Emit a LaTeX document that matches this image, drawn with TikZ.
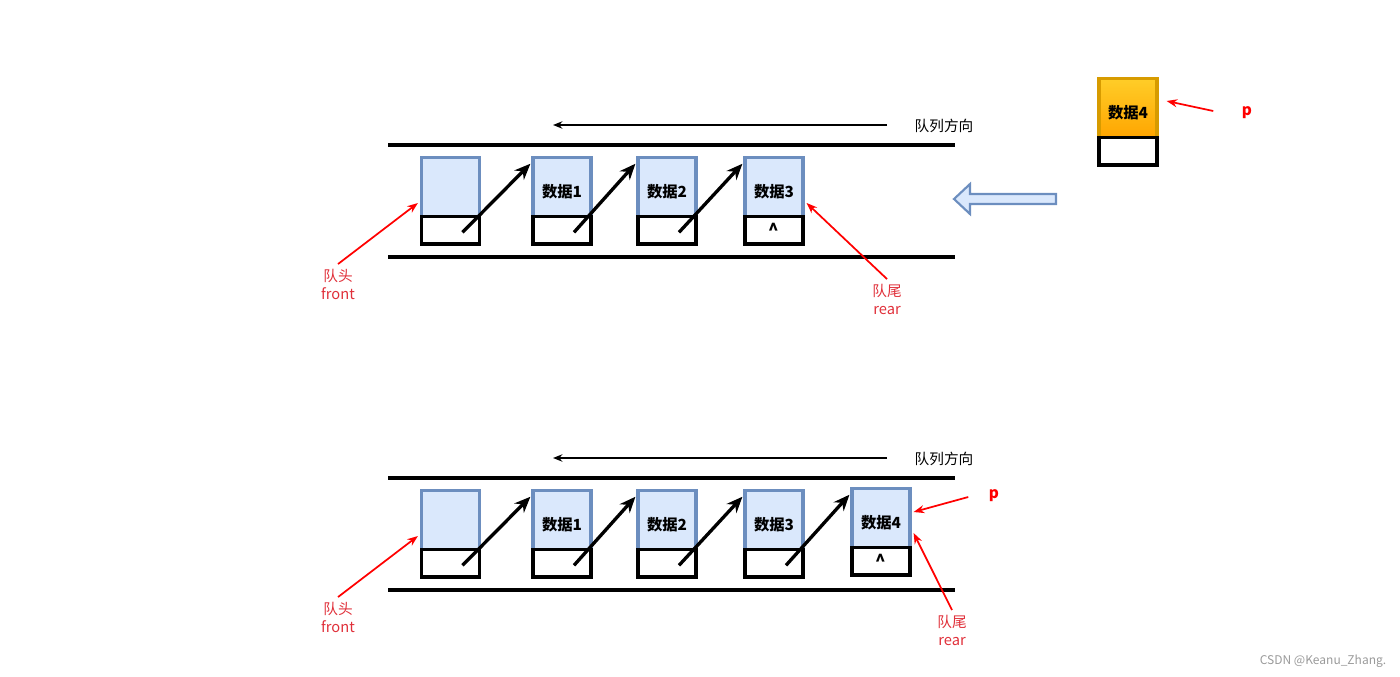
\documentclass[tikz,border=0pt]{standalone}
\usepackage{fontspec}
\setmainfont{Noto Sans CJK SC}
\usetikzlibrary{arrows.meta,positioning}
\definecolor{nodeblue}{HTML}{6C8EBF}
\definecolor{nodefill}{HTML}{DAE8FC}
\definecolor{neworange}{HTML}{D79B00}
\definecolor{newtop}{HTML}{FFCD28}
\definecolor{newbottom}{HTML}{FFA500}
\definecolor{tagred}{HTML}{FF0000}
\definecolor{labelred}{HTML}{E0303A}
\definecolor{watermarkgray}{HTML}{9A9A9A}
\tikzset{
  rail/.style={line width=2.6pt},
  databox/.style={draw=nodeblue,fill=nodefill,line width=2.4pt,minimum width=43.5pt,minimum height=44.5pt,inner sep=0pt,text height=16pt,text depth=1pt,font=\fontsize{11.5}{13}\selectfont\bfseries},
  newbox/.style={databox,draw=neworange,top color=newtop,bottom color=newbottom},
  ptrbox/.style={draw=black,fill=white,line width=2.6pt,minimum width=43.5pt,minimum height=20.5pt,inner sep=0pt,font=\fontsize{13}{13}\selectfont\bfseries},
  link/.style={-{Stealth[length=12pt,width=10pt]},line width=2.5pt},
  dirflow/.style={-{Stealth[length=7pt,width=5.5pt]},line width=1.2pt},
  tagflow/.style={-{Stealth[length=8pt,width=6pt]},line width=1.3pt,draw=tagred},
  tag/.style={text=labelred,align=center,font=\fontsize{11}{13.5}\selectfont},
  ptag/.style={text=tagred,font=\fontsize{11.5}{13}\selectfont\bfseries},
  dirlabel/.style={font=\fontsize{11}{13}\selectfont},
  hollow/.style={draw=nodeblue,fill=nodefill,line width=1.6pt,line join=miter}
}
\begin{document}
\begin{tikzpicture}[x=0.75pt,y=-0.75pt]
  \useasboundingbox (0,0) rectangle (1400,676);
  % before: queue with three elements
  \draw[rail] (388,145) -- (955,145);
  \draw[rail] (388,257) -- (955,257);
  \node[dirlabel] (dir1) at (944,126) {队列方向};
  \coordinate (dirtail1) at (887,125);
  \coordinate (dirhead1) at (553,125);
  \draw[dirflow] (dirtail1) -- (dirhead1);
  \node[databox] (a0) at (450.5,187) {};
  \node[ptrbox,below=-2.5pt of a0] (pa0) {};
  \node[databox] (a1) at (562,187) {数据1};
  \node[ptrbox,below=-2.5pt of a1] (pa1) {};
  \node[databox] (a2) at (667,187) {数据2};
  \node[ptrbox,below=-2.5pt of a2] (pa2) {};
  \node[databox] (a3) at (774,187) {数据3};
  \node[ptrbox,below=-2.5pt of a3] (pa3) {\textasciicircum};
  \draw[link] ([shift={(12,2)}]pa0.center) -- ([shift={(-1,8)}]a1.north west);
  \draw[link] ([shift={(12,2)}]pa1.center) -- ([shift={(-1,8)}]a2.north west);
  \draw[link] ([shift={(12,2)}]pa2.center) -- ([shift={(-1,8)}]a3.north west);
  \node[tag] (front1) at (338,284) {队头\\front};
  \node[tag] (rear1) at (887,299) {队尾\\rear};
  \draw[tagflow] (front1.north) -- ([shift={(-2,16)}]a0.west);
  \draw[tagflow] (rear1.north) -- ([shift={(2,16)}]a3.east);
  % new element waiting to enter
  \node[newbox] (nd) at (1128,108) {数据4};
  \node[ptrbox,below=-2.5pt of nd] (pnd) {};
  \node[ptag] (p1) at (1247,113) {p};
  \draw[tagflow] ([shift={(-24,-2)}]p1.west) -- ([shift={(8,-7)}]nd.east);
  \draw[hollow] (1056,194) -- (970,194) -- (970,184) -- (954,199) -- (970,214) -- (970,204) -- (1056,204) -- cycle;
  % after: queue with four elements
  \draw[rail] (388,478) -- (955,478);
  \draw[rail] (388,590) -- (955,590);
  \node[dirlabel] (dir2) at (944,459) {队列方向};
  \coordinate (dirtail2) at (887,458);
  \coordinate (dirhead2) at (553,458);
  \draw[dirflow] (dirtail2) -- (dirhead2);
  \node[databox] (b0) at (450.5,520) {};
  \node[ptrbox,below=-2.5pt of b0] (pb0) {};
  \node[databox] (b1) at (562,520) {数据1};
  \node[ptrbox,below=-2.5pt of b1] (pb1) {};
  \node[databox] (b2) at (667,520) {数据2};
  \node[ptrbox,below=-2.5pt of b2] (pb2) {};
  \node[databox] (b3) at (774,520) {数据3};
  \node[ptrbox,below=-2.5pt of b3] (pb3) {};
  \node[databox] (b4) at (881,518) {数据4};
  \node[ptrbox,below=-2.5pt of b4] (pb4) {\textasciicircum};
  \draw[link] ([shift={(12,2)}]pb0.center) -- ([shift={(-1,8)}]b1.north west);
  \draw[link] ([shift={(12,2)}]pb1.center) -- ([shift={(-1,8)}]b2.north west);
  \draw[link] ([shift={(12,2)}]pb2.center) -- ([shift={(-1,8)}]b3.north west);
  \draw[link] ([shift={(12,2)}]pb3.center) -- ([shift={(-1,8)}]b4.north west);
  \node[tag] (front2) at (338,617) {队头\\front};
  \node[tag] (rear2) at (952,630) {队尾\\rear};
  \node[ptag] (p2) at (994,496) {p};
  \draw[tagflow] (front2.north) -- ([shift={(-2,16)}]b0.west);
  \draw[tagflow] (rear2.north) -- ([shift={(2,15)}]b4.east);
  \draw[tagflow] ([shift={(-16,1)}]p2.west) -- ([shift={(2,-6)}]b4.east);
  \node[font=\fontsize{9}{11}\selectfont,text=watermarkgray] (mark1) at (1323,661) {CSDN @Keanu\_Zhang.};
\end{tikzpicture}
\end{document}
